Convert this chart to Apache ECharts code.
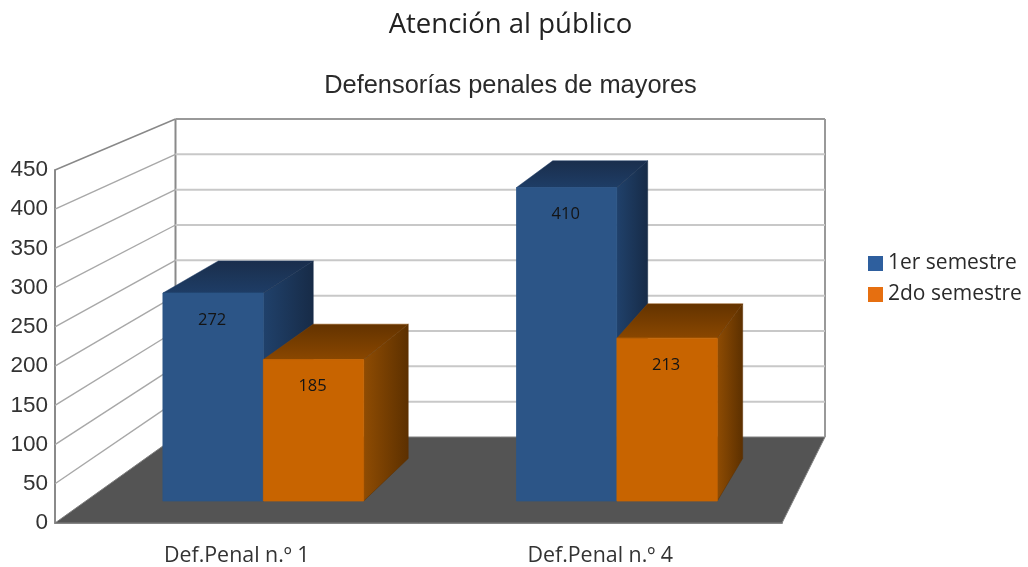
<!DOCTYPE html>
<html>
<head>
<meta charset="utf-8">
<style>html,body{margin:0;padding:0;background:#fff}#c{width:1028px;height:567px}</style>
<script src="https://cdn.jsdelivr.net/npm/echarts@6/dist/echarts.min.js"></script>
</head>
<body>
<div id="c"></div>
<script>
var categories = ['Def.Penal n.º 1', 'Def.Penal n.º 4'];
var seriesNames = ['1er semestre', '2do semestre'];
var primerSemestre = [272, 410];
var segundoSemestre = [185, 213];
var yTicks = [0, 50, 100, 150, 200, 250, 300, 350, 400, 450];

// Rear wall rectangle of the 3D box, in pixels
var BACK = {x: 175.5, y: 119, w: 649.5, h: 318};
var D_FRONT = 0.256, D_BACK = 0.75;
var FONT_A = '"Open Sans", sans-serif', FONT_B = '"Liberation Sans", sans-serif';

function lerp(a, b, t) { return a + (b - a) * t; }
function projector(cs) {
  return function (x, y, d) {
    var u = (x - cs.x) / cs.width, v = (y - cs.y) / cs.height;
    return [lerp(x, BACK.x + u * BACK.w, d), lerp(y, BACK.y + v * BACK.h, d)];
  };
}
function vGrad(a, b) { return {type: 'linear', x: 0, y: 0, x2: 0, y2: 1, colorStops: [{offset: 0, color: a}, {offset: 1, color: b}]}; }
function hGrad(a, b) { return {type: 'linear', x: 0, y: 0, x2: 1, y2: 0, colorStops: [{offset: 0, color: a}, {offset: 1, color: b}]}; }

function renderWall(params, api) {
  var cs = params.coordSys, P = projector(cs);
  var y = api.coord([0, api.value(0)])[1];
  var a = P(cs.x, y, 0), b = P(cs.x, y, 1), c = P(cs.x + cs.width, y, 1);
  var kids = [];
  if (api.value(0) === 0) {
    var e = P(cs.x + cs.width, y, 0);
    kids.push({type: 'polygon', shape: {points: [a, b, c, e]}, style: {fill: '#545454', stroke: '#808080', lineWidth: 1}});
    var top = api.coord([0, yTicks[yTicks.length - 1]])[1];
    kids.push({type: 'line', shape: {x1: b[0], y1: b[1], x2: P(cs.x, top, 1)[0], y2: P(cs.x, top, 1)[1]}, style: {stroke: '#8a8a8a', lineWidth: 2}});
    kids.push({type: 'line', shape: {x1: c[0], y1: c[1], x2: P(cs.x + cs.width, top, 1)[0], y2: P(cs.x + cs.width, top, 1)[1]}, style: {stroke: '#999999', lineWidth: 2}});
  } else {
    var isTop = api.value(0) === yTicks[yTicks.length - 1];
    kids.push({type: 'line', shape: {x1: a[0], y1: a[1], x2: b[0], y2: b[1]}, style: {stroke: isTop ? '#888888' : '#a8a8a8', lineWidth: 1.4}});
    kids.push({type: 'line', shape: {x1: b[0], y1: b[1], x2: c[0], y2: c[1]}, style: {stroke: isTop ? '#999999' : '#c8c8c8', lineWidth: 2}});
  }
  return {type: 'group', children: kids};
}

function barRenderer(from, to, pal) {
  return function (params, api) {
    var cs = params.coordSys, P = projector(cs);
    var cat = api.value(0), val = api.value(1);
    var c = api.coord([cat, val]), base = api.coord([cat, 0])[1], band = api.size([1, 0])[0];
    var xl = c[0] + from * band, xr = c[0] + to * band, yt = c[1];
    var fbl = P(xl, base, D_FRONT), fbr = P(xr, base, D_FRONT), ftl = P(xl, yt, D_FRONT), ftr = P(xr, yt, D_FRONT);
    var bbr = P(xr, base, D_BACK), btl = P(xl, yt, D_BACK), btr = P(xr, yt, D_BACK);
    return {type: 'group', children: [
      {type: 'polygon', shape: {points: [ftl, btl, btr, ftr]}, style: {fill: vGrad(pal.topBack, pal.topFront), stroke: pal.topFront, lineWidth: 0.5}},
      {type: 'polygon', shape: {points: [ftr, btr, bbr, fbr]}, style: {fill: hGrad(pal.sideFront, pal.sideBack), stroke: pal.sideBack, lineWidth: 0.5}},
      {type: 'polygon', shape: {points: [ftl, ftr, fbr, fbl]}, style: {fill: pal.front, stroke: pal.front, lineWidth: 0.8}},
      {type: 'text', style: {text: String(val), x: (ftl[0] + ftr[0]) / 2 - 1, y: ftl[1] + 27, fill: '#141414', fontSize: 16.5, fontFamily: FONT_A, align: 'center', verticalAlign: 'middle'}}
    ]};
  };
}

var BLUE = {front: '#2c5587', topBack: '#1a2e4c', topFront: '#1e3d66', sideFront: '#20416b', sideBack: '#172b47'};
var ORANGE = {front: '#c86400', topBack: '#633300', topFront: '#8a4700', sideFront: '#8f4c03', sideBack: '#5c3000'};

function pairs(arr) { return arr.map(function (v, i) { return [i, v]; }); }

var chart = echarts.init(document.getElementById('c'));
chart.setOption({
  animation: false,
  backgroundColor: '#ffffff',
  title: [
    {text: 'Atención al público', left: 505.5, top: 6, textAlign: 'center', textStyle: {fontFamily: FONT_A, fontSize: 27.5, fontWeight: 'normal', color: '#222222'}},
    {text: 'Defensorías penales de mayores', left: 505.5, top: 68, textAlign: 'center', textStyle: {fontFamily: FONT_B, fontSize: 25.4, fontWeight: 'normal', color: '#2a2a2a'}}
  ],
  legend: {
    orient: 'vertical', left: 868, top: 253, padding: 0, itemWidth: 15, itemHeight: 15, itemGap: 10, icon: 'rect',
    data: [
      {name: seriesNames[0], itemStyle: {color: '#2e5f9e'}},
      {name: seriesNames[1], itemStyle: {color: '#e66f10'}}
    ],
    textStyle: {fontFamily: FONT_A, fontSize: 21, color: '#2a2a2a'}
  },
  grid: {left: 55, right: 246, top: 170, bottom: 44},
  xAxis: {
    type: 'category', data: categories,
    axisLine: {show: true, lineStyle: {color: '#8a8a8a', width: 2}}, axisTick: {show: false},
    axisLabel: {fontFamily: FONT_A, fontSize: 21.4, color: '#333333', margin: 22}
  },
  yAxis: {
    type: 'value', min: 0, max: 450, interval: 50,
    axisLine: {show: true, lineStyle: {color: '#8a8a8a', width: 2}}, axisTick: {show: false},
    splitLine: {show: false},
    axisLabel: {fontFamily: FONT_B, fontSize: 22.5, color: '#333333', margin: 7, verticalAlignMinLabel: 'middle', verticalAlignMaxLabel: 'middle'}
  },
  series: [
    {type: 'custom', name: 'Paredes', z: 1, silent: true, data: yTicks.map(function (t) { return [t]; }), encode: {y: 0}, renderItem: renderWall},
    {type: 'custom', name: seriesNames[0], z: 2, itemStyle: {color: '#2e5f9e'}, data: pairs(primerSemestre), encode: {x: 0, y: 1}, renderItem: barRenderer(-0.282, 0.002, BLUE)},
    {type: 'custom', name: seriesNames[1], z: 3, itemStyle: {color: '#e66f10'}, data: pairs(segundoSemestre), encode: {x: 0, y: 1}, renderItem: barRenderer(0.002, 0.286, ORANGE)}
  ]
});
</script>
</body>
</html>
